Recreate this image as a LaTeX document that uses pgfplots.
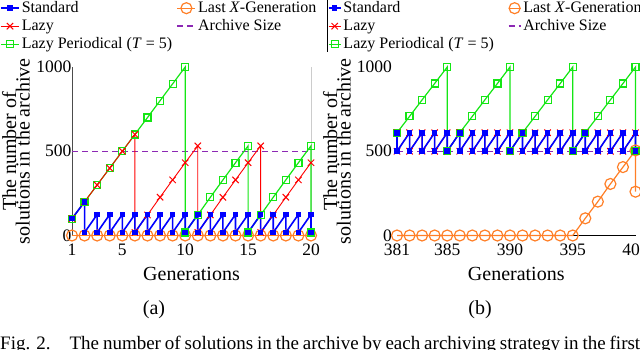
\documentclass[border=0pt]{standalone}
\usepackage{pgfplots}
\pgfplotsset{compat=1.18}
\usepackage{fontspec}
\setmainfont{Liberation Serif}

\definecolor{cstd}{RGB}{0,0,255}
\definecolor{clast}{RGB}{255,127,39}
\definecolor{clazy}{RGB}{255,0,0}
\definecolor{carch}{RGB}{140,40,180}
\definecolor{cper}{RGB}{20,230,20}

\newcommand{\tickfont}{\fontsize{17.5}{18}\selectfont}
\newcommand{\labfont}{\fontsize{20}{19.5}\selectfont}
\newcommand{\legfont}{\fontsize{16}{18}\selectfont}

\pgfplotsset{
  stdline/.style={cstd, line width=1.6pt, mark=square*, mark size=2pt},
  lastline/.style={clast, line width=1.2pt, mark=o, mark size=5.5pt},
  lazyline/.style={clazy, line width=0.9pt, mark=x, mark size=4.5pt, mark options={line width=1pt}},
  archline/.style={carch, line width=1.5pt, dash pattern=on 6pt off 4pt},
  perline/.style={cper, line width=1.2pt, mark=square, mark size=3.5pt},
  panel/.style={
    scale only axis, height=168.5pt, anchor=south west,
    ymin=0, ymax=1000, ytick={0,500,1000},
    major tick length=0pt, axis line style={draw=none},
    clip=false, scaled ticks=false,
    /pgf/number format/assume math mode=true,
    /pgf/number format/1000 sep={},
    tick label style={font=\tickfont},
    xticklabel style={inner sep=0pt, yshift=-8.5pt},
    xlabel={Generations},
    xlabel style={font=\labfont, at={(axis description cs:0.5,0)}, anchor=base, yshift=-44.8pt},
    ylabel={The number of\\[-6pt]solutions in the archive},
    ylabel style={font=\labfont, align=center, anchor=center, inner sep=0pt},
    legend columns=2,
    legend style={draw=none, fill=none, inner sep=0pt, font=\legfont,
      cells={anchor=west},
      nodes={inner sep=1pt, text height=12pt, text depth=4pt},
      /tikz/every odd column/.append style={column sep=1pt}},
  },
}

\begin{document}
\begin{tikzpicture}
\useasboundingbox (0pt,0pt) rectangle (640pt,349pt);
\clip (0pt,0pt) rectangle (640pt,349pt);

% ---------------- (a) first generations
\begin{axis}[panel, at={(72pt,113.5pt)}, width=239pt,
  xmin=1, xmax=20, xtick={1,5,10,15,20},
  yticklabel style={inner sep=0pt, xshift=-0.5pt},
  ylabel style={at={(axis description cs:-0.2343,0.5)}},
  legend style={at={(-0.3013,1.4036)}, anchor=north west,
    /tikz/every even column/.append style={column sep=3.5pt}},
  legend image code/.code={\draw[mark repeat=2,mark phase=2] plot coordinates {(0pt,0pt) (9pt,0pt) (18pt,0pt)};},
]
\addlegendimage{stdline}\addlegendentry{Standard}
\addlegendimage{lastline}\addlegendentry{Last \textit{X}-Generation}
\addlegendimage{lazyline}\addlegendentry{Lazy}
\addlegendimage{archline}\addlegendentry{Archive Size}
\addlegendimage{perline}\addlegendentry{Lazy Periodical (\textit{T} = 5)}

\draw[black!70, line width=0.8pt] (rel axis cs:0,0) -- (rel axis cs:0,1);
\draw[black!20, line width=0.6pt] (rel axis cs:1,0) -- (rel axis cs:1,1);
\draw[black, line width=0.8pt] (rel axis cs:0,0) -- (rel axis cs:1,0);

\addplot[lastline, forget plot] coordinates {(1,0) (2,0) (3,0) (4,0) (5,0) (6,0) (7,0) (8,0) (9,0) (10,0) (11,0) (12,0) (13,0) (14,0) (15,0) (16,0) (17,0) (18,0) (19,0) (20,0)};
\addplot[archline, forget plot] coordinates {(1,500) (20,500)};
\addplot[perline, forget plot] coordinates {(1,100) (2,200) (3,300) (4,400) (5,500) (6,600) (7,700) (8,800) (9,900) (10,1000) (10,18) (11,122) (12,227) (13,330) (14,432) (15,532) (15,18) (16,122) (17,227) (18,330) (19,432) (20,532) (20,18)};
\addplot[lazyline, forget plot] coordinates {(1,100) (2,200) (3,300) (4,400) (5,500) (6,600) (6,18) (7,122) (8,227) (9,330) (10,432) (11,532) (11,18) (12,122) (13,227) (14,330) (15,432) (16,532) (16,18) (17,122) (18,227) (19,330) (20,432)};
\addplot[stdline, forget plot] coordinates {(1,100) (2,200) (2,18) (3,125) (3,18) (4,125) (4,18) (5,125) (5,18) (6,125) (6,18) (7,125) (7,18) (8,125) (8,18) (9,125) (9,18) (10,125) (10,18) (11,125) (11,18) (12,125) (12,18) (13,125) (13,18) (14,125) (14,18) (15,125) (15,18) (16,125) (16,18) (17,125) (17,18) (18,125) (18,18) (19,125) (19,18) (20,125) (20,18)};
\end{axis}

% ---------------- (b) last generations
\begin{axis}[panel, at={(397pt,113.5pt)}, width=238.5pt,
  xmin=381, xmax=400, xtick={381,385,390,395,400},
  yticklabel style={inner sep=0pt, xshift=-5pt},
  ylabel style={at={(axis description cs:-0.252,0.5)}},
  legend style={at={(-0.2906,1.4036)}, anchor=north west,
    /tikz/every even column/.append style={column sep=13pt}},
  legend image code/.code={\draw[mark repeat=2,mark phase=2] plot coordinates {(0pt,0pt) (6pt,0pt) (12pt,0pt)};},
]
\addlegendimage{stdline}\addlegendentry{Standard}
\addlegendimage{lastline}\addlegendentry{Last \textit{X}-Generation}
\addlegendimage{lazyline}\addlegendentry{Lazy}
\addlegendimage{archline}\addlegendentry{Archive Size}
\addlegendimage{perline}\addlegendentry{Lazy Periodical (\textit{T} = 5)}

\draw[black, line width=0.8pt] (rel axis cs:0,0) -- (rel axis cs:1,0);

\addplot[lastline, forget plot] coordinates {(381,0) (382,0) (383,0) (384,0) (385,0) (386,0) (387,0) (388,0) (389,0) (390,0) (391,0) (392,0) (393,0) (394,0) (395,0) (396,102) (397,201) (398,306) (399,406) (400,505) (400,260)};
\addplot[archline, forget plot] coordinates {(381,500) (400,500)};
\addplot[perline, forget plot] coordinates {(381,610) (382,707) (383,805) (384,902) (385,1000) (385,500) (386,610) (387,707) (388,805) (389,902) (390,1000) (390,500) (391,610) (392,707) (393,805) (394,902) (395,1000) (395,500) (396,610) (397,707) (398,805) (399,902) (400,1000) (400,500)};
\addplot[lazyline, forget plot] coordinates {(381,610) (381,500) (382,610) (382,500) (383,610) (383,500) (384,610) (384,500) (385,610) (385,500) (386,610) (386,500) (387,610) (387,500) (388,610) (388,500) (389,610) (389,500) (390,610) (390,500) (391,610) (391,500) (392,610) (392,500) (393,610) (393,500) (394,610) (394,500) (395,610) (395,500) (396,610) (396,500) (397,610) (397,500) (398,610) (398,500) (399,610) (399,500) (400,610) (400,500)};
\addplot[stdline, forget plot] coordinates {(381,610) (381,500) (382,610) (382,500) (383,610) (383,500) (384,610) (384,500) (385,610) (385,500) (386,610) (386,500) (387,610) (387,500) (388,610) (388,500) (389,610) (389,500) (390,610) (390,500) (391,610) (391,500) (392,610) (392,500) (393,610) (393,500) (394,610) (394,500) (395,610) (395,500) (396,610) (396,500) (397,610) (397,500) (398,610) (398,500) (399,610) (399,500) (400,610) (400,500)};
\end{axis}

\draw[black, line width=0.8pt] (327pt,349pt) -- (327pt,297pt);
\node[font=\labfont, anchor=base, inner sep=0pt] at (154pt,34.5pt) {(a)};
\node[font=\labfont, anchor=base, inner sep=0pt] at (480pt,34.5pt) {(b)};
\node[font=\fontsize{19}{21}\selectfont, anchor=north west, inner sep=0pt, text width=640pt, align=justify] at (0pt,13.5pt)
  {Fig. 2.\quad The number of solutions in the archive by each archiving strategy in the first and the last twenty generations of the run.};
\end{tikzpicture}
\end{document}
